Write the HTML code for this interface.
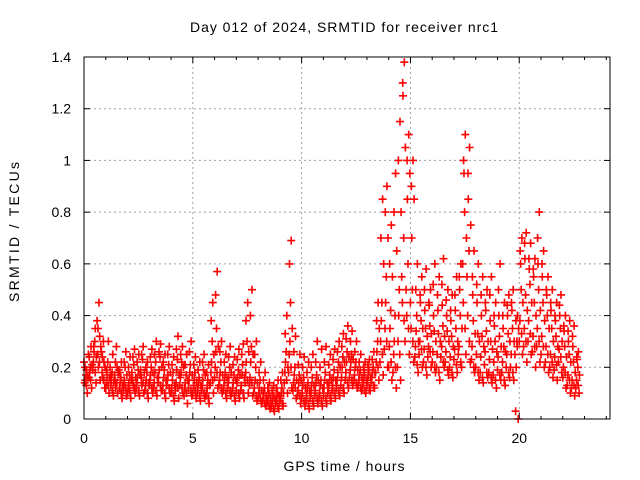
<!DOCTYPE html>
<html><head><meta charset="utf-8"><style>
html,body{margin:0;padding:0;background:#fff;}
svg{display:block;font-family:"Liberation Sans",sans-serif;}
</style></head><body>
<svg id="chart" width="640" height="480">
<text x="344" y="32" text-anchor="middle" font-size="14" textLength="308" lengthAdjust="spacing">Day 012 of 2024, SRMTID for receiver nrc1</text>
<text x="344" y="471" text-anchor="middle" font-size="14" textLength="121" lengthAdjust="spacing">GPS time / hours</text>
<text transform="translate(19,232) rotate(-90)" text-anchor="middle" font-size="14" textLength="140" lengthAdjust="spacing">SRMTID / TECUs</text>
<g id="grid"></g>
<g id="ticks"></g>
<g id="marks"></g>
<rect x="84" y="57" width="526" height="362" fill="none" stroke="#000" stroke-width="1"/>
</svg>
<script>
const xTicks=[0,5,10,15,20];
const yTicks=[0,0.2,0.4,0.6,0.8,1,1.2,1.4];
const yTickLabels=["0","0.2","0.4","0.6","0.8","1","1.2","1.4"];
const binStart=0, binWidth=0.2;
const s1=[.10,.12,.14,.15,.12,.10,.09,.10,.08,.09,.08,.10,.09,.10,.08,.10,.09,.11,.08,.10,.07,.08,.10,.06,.09,.08,.07,.08,.06,.10,.12,.10,.08,.09,.07,.08,.08,.10,.09,.07,.06,.05,.04,.03,.04,.05,.10,.12,.08,.06,.05,.04,.05,.06,.05,.06,.07,.08,.09,.10,.12,.13,.12,.11,.10,.11,.12,.15,.17,.20,.15,.12,.15,.30,.25,.22,.18,.20,.17,.20,.18,.15,.20,.17,.16,.18,.20,.25,.22,.18,.15,.14,.16,.14,.12,.15,.13,.16,.15,.00,.25,.22,.25,.20,.22,.20,.18,.16,.15,.18,.12,.10,.09,.10];
const s2=[.14,.16,.22,.25,.18,.14,.13,.15,.12,.13,.12,.15,.14,.16,.13,.15,.14,.16,.13,.15,.12,.14,.16,.12,.15,.13,.12,.13,.10,.18,.20,.15,.13,.14,.12,.14,.13,.18,.16,.12,.10,.08,.07,.06,.07,.08,.18,.25,.14,.11,.10,.09,.10,.11,.10,.12,.12,.13,.15,.16,.18,.19,.17,.15,.14,.15,.16,.22,.30,.35,.28,.25,.30,.45,.40,.35,.28,.30,.27,.28,.26,.25,.28,.26,.24,.27,.28,.45,.40,.28,.25,.24,.26,.23,.22,.24,.22,.25,.25,.03,.38,.35,.38,.32,.35,.32,.28,.25,.24,.27,.20,.17,.15,.15];
const s3=[.17,.20,.30,.45,.30,.22,.18,.28,.16,.20,.17,.21,.19,.23,.18,.20,.22,.24,.19,.21,.18,.23,.22,.17,.21,.18,.16,.19,.15,.30,.35,.22,.18,.20,.17,.19,.21,.30,.28,.20,.15,.12,.10,.09,.10,.12,.26,.45,.20,.17,.16,.14,.16,.17,.15,.18,.17,.19,.22,.24,.26,.25,.22,.19,.18,.19,.20,.30,.45,.55,.42,.40,.50,.70,.60,.50,.40,.38,.35,.36,.34,.33,.36,.34,.32,.35,.40,.80,.65,.38,.33,.32,.34,.30,.30,.32,.28,.33,.35,.30,.50,.48,.52,.45,.50,.45,.40,.35,.32,.35,.28,.25,.22,.20];
const s4=[.19,.28,.35,.32,.22,.30,.25,.20,.22,.26,.24,.27,.25,.28,.22,.27,.30,.29,.25,.28,.24,.32,.28,.25,.30,.24,.22,.25,.21,.45,.57,.30,.25,.28,.24,.27,.29,.45,.50,.30,.22,.18,.14,.13,.15,.18,.40,.69,.32,.25,.24,.22,.25,.30,.27,.28,.25,.27,.30,.33,.36,.34,.30,.25,.22,.23,.26,.45,.85,.90,.75,.95,1.15,1.38,1.10,1.00,.60,.55,.58,.50,.60,.55,.62,.50,.48,.55,.60,1.10,1.05,.65,.60,.55,.50,.55,.45,.60,.45,.48,.50,.40,.70,.72,.68,.62,.80,.65,.55,.50,.45,.48,.40,.38,.36,.26];
const s5=[.15,.18,.26,.20,.16,.17,.15,.12,.14,.15,.14,.13,.16,.13,.15,.17,.18,.19,.16,.17,.15,.19,.18,.14,.18,.15,.14,.15,.12,.22,.26,.18,.15,.16,.14,.16,.17,.22,.22,.15,.12,.10,.08,.07,.08,.10,.22,.30,.17,.14,.13,.12,.13,.14,.13,.15,.14,.16,.18,.20,.22,.22,.20,.17,.16,.17,.18,.26,.38,.45,.35,.30,.40,1.25,.85,.70,.34,.45,.42,.44,.40,.42,.44,.40,.38,.42,.50,.95,.85,.48,.45,.40,.42,.38,.36,.40,.35,.40,.42,.20,.60,.62,.58,.55,.60,.55,.48,.42,.38,.40,.34,.30,.28,.23];
const s6=[.22,.25,.19,.38,.26,.12,.20,.17,.19,.11,.10,.18,.12,.19,.11,.13,.12,.14,.11,.13,.10,.11,.13,.09,.12,.10,.10,.11,.09,.14,.16,.13,.11,.12,.10,.11,.11,.14,.13,.10,.08,.07,.06,.05,.06,.07,.14,.18,.11,.09,.08,.07,.08,.09,.08,.09,.10,.11,.12,.13,.15,.16,.15,.13,.12,.13,.14,.18,.22,.27,.20,.18,.20,.55,.50,.45,.24,.25,.22,.24,.22,.20,.24,.22,.20,.23,.25,.60,.55,.23,.20,.18,.21,.18,.17,.19,.18,.20,.20,.25,.30,.28,.30,.26,.28,.25,.22,.20,.19,.22,.16,.13,.12,.12];
const s7=[.16,.21,.24,.28,.20,.16,.14,.18,.13,.17,.15,.16,.17,.18,.14,.18,.16,.20,.15,.18,.13,.17,.20,.15,.17,.14,.13,.17,.13,.25,.28,.17,.16,.18,.15,.17,.16,.26,.25,.14,.11,.09,.08,.08,.09,.10,.20,.35,.15,.15,.12,.11,.13,.15,.12,.14,.15,.15,.20,.22,.24,.23,.19,.16,.15,.16,.18,.35,.60,.70,.55,.65,.80,1.05,.95,.85,.30,.35,.32,.33,.30,.30,.32,.30,.28,.30,.35,.70,.75,.33,.30,.28,.30,.27,.26,.28,.26,.30,.30,.35,.45,.42,.45,.40,.42,.38,.35,.30,.28,.30,.24,.22,.18,.17];
const s8=[.13,.15,.18,.22,.15,.13,.11,.14,.10,.12,.11,.12,.11,.14,.10,.12,.11,.13,.10,.12,.09,.12,.12,.10,.11,.11,.09,.10,.08,.15,.18,.12,.10,.11,.09,.10,.10,.15,.14,.09,.08,.06,.05,.04,.05,.06,.15,.20,.12,.09,.07,.06,.07,.08,.07,.08,.09,.10,.11,.12,.14,.15,.14,.12,.11,.12,.13,.20,.25,.30,.22,.20,.25,.38,.35,.30,.21,.27,.20,.26,.20,.18,.22,.19,.18,.21,.22,.35,.30,.20,.18,.16,.18,.16,.15,.17,.15,.18,.18,.28,.33,.30,.33,.28,.30,.28,.25,.22,.21,.24,.18,.15,.13,.13];
const s9=[.20,.24,.28,.35,.24,.19,.17,.22,.18,.22,.20,.24,.22,.25,.20,.24,.25,.26,.22,.25,.21,.27,.25,.21,.26,.21,.19,.22,.18,.38,.48,.26,.22,.24,.21,.23,.25,.38,.40,.25,.18,.15,.12,.11,.12,.15,.33,.60,.26,.21,.20,.18,.20,.22,.20,.22,.21,.23,.26,.28,.31,.30,.26,.22,.20,.21,.23,.38,.70,.80,.60,.80,1.00,1.30,1.00,.90,.50,.48,.50,.45,.52,.48,.52,.46,.42,.48,.55,1.00,.95,.55,.52,.48,.45,.48,.40,.50,.40,.44,.45,.38,.65,.68,.62,.58,.70,.60,.50,.45,.40,.44,.36,.34,.32,.24];
const series=[s1,s2,s3,s4,s5,s6,s7,s8,s9];
const offsets=[0.15,0.03,0.09,0.12,0.06,0.0,0.17,0.11,0.045];
const NS="http://www.w3.org/2000/svg";
const X0=84,X1=610,Y0=419,Y1=57,XMAX=24.17,YMAX=1.4;
function xs(t){return X0+(t/XMAX)*(X1-X0);}
function ys(v){return Y0-(v/YMAX)*(Y0-Y1);}
const grid=document.getElementById('grid'),ticks=document.getElementById('ticks'),marks=document.getElementById('marks');
function mk(tag,attrs,parent){const e=document.createElementNS(NS,tag);for(const k in attrs)e.setAttribute(k,attrs[k]);parent.appendChild(e);return e;}
xTicks.forEach(t=>{const x=xs(t);
 if(t>0){const g=mk('line',{x1:x,x2:x,y1:Y1,y2:Y0,stroke:'#a0a0a0','stroke-dasharray':'2,3'},grid);
 
 }
 mk('line',{x1:x,x2:x,y1:Y0,y2:Y0-6,stroke:'#000'},ticks);
 mk('line',{x1:x,x2:x,y1:Y1,y2:Y1+6,stroke:'#000'},ticks);
 const l=mk('text',{x:x,y:443,'text-anchor':'middle','font-size':'14'},ticks);l.textContent=String(t);
 
 });
yTicks.forEach((v,i)=>{const y=ys(v);
 if(v>0&&v<YMAX){const g=mk('line',{x1:X0,x2:X1,y1:y,y2:y,stroke:'#a0a0a0','stroke-dasharray':'2,3'},grid);
 
 }
 mk('line',{x1:X0,x2:X0+6,y1:y,y2:y,stroke:'#000'},ticks);
 mk('line',{x1:X1,x2:X1-6,y1:y,y2:y,stroke:'#000'},ticks);
 const l=mk('text',{x:71,y:y+5,'text-anchor':'end','font-size':'14'},ticks);l.textContent=yTickLabels[i];
 
 });
[1,2,3,4,6,7,8,9,11,12,13,14,16,17,18,19,21,22,23,24].forEach(t=>{const x=xs(t);
 mk('line',{x1:x,x2:x,y1:Y0,y2:Y0-3,stroke:'#000'},ticks);mk('line',{x1:x,x2:x,y1:Y1,y2:Y1+3,stroke:'#000'},ticks);});
let d='';
series.forEach((arr,si)=>{arr.forEach((v,i)=>{const t=binStart+i*binWidth+offsets[si];const x=xs(t),y=ys(v);
 d+='M'+(x-4).toFixed(1)+' '+y.toFixed(1)+'h8M'+x.toFixed(1)+' '+(y-4).toFixed(1)+'v8';});});
const p=mk('path',{d:d,stroke:'#ff0000','stroke-width':'1.6',fill:'none'},marks);


</script>
</body></html>
